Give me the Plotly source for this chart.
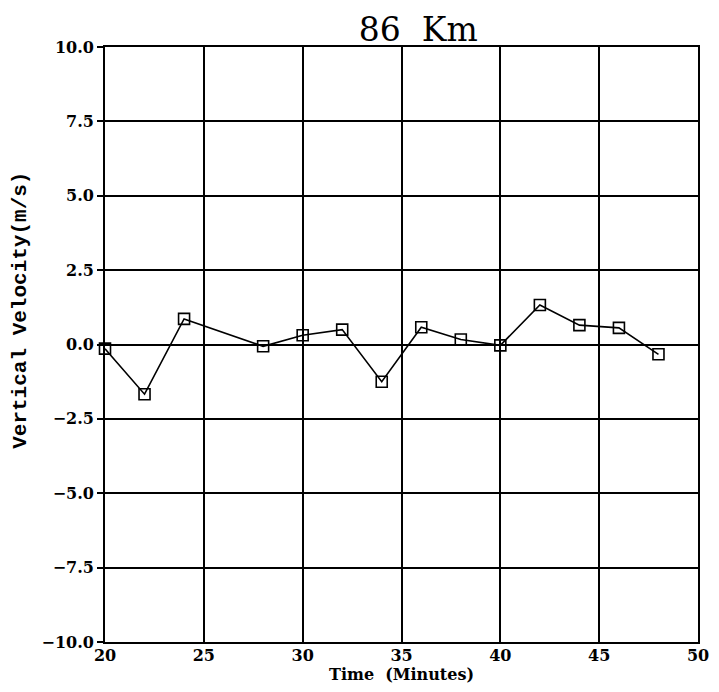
import plotly.graph_objects as go

time_min = [20, 22, 24, 28, 30, 32, 34, 36, 38, 40, 42, 44, 46, 48]
velocity = [-0.14, -1.67, 0.86, -0.06, 0.31, 0.50, -1.25, 0.58, 0.17, -0.03, 1.33, 0.65, 0.56, -0.33]

x_ticks = [20, 25, 30, 35, 40, 45, 50]
y_ticks = [-10.0, -7.5, -5.0, -2.5, 0.0, 2.5, 5.0, 7.5, 10.0]

fig = go.Figure()
fig.add_trace(go.Scatter(
    x=time_min, y=velocity, mode="lines+markers",
    line=dict(color="black", width=1.6),
    marker=dict(symbol="square-open", size=11, color="black", line=dict(width=1.6)),
    showlegend=False, cliponaxis=False,
))

tickfont = dict(family="DejaVu Serif", size=16, color="black", weight="bold")

fig.update_layout(
    width=711, height=684,
    margin=dict(l=97, r=21, t=39, b=50),
    paper_bgcolor="white", plot_bgcolor="white",
    title=dict(text="86  Km", x=0.577, xanchor="center", y=0.985, yanchor="top",
               font=dict(family="DejaVu Serif", size=33, color="black")),
    xaxis=dict(range=[20, 50], tickvals=x_ticks, ticktext=[str(v) for v in x_ticks],
               showgrid=True, gridcolor="black", gridwidth=1.8,
               showline=True, linecolor="black", linewidth=1.8, mirror=True,
               zeroline=False, ticks="", tickfont=tickfont, ticklabelstandoff=-2,
               automargin=False,
               title=dict(text="Time  (Minutes)", standoff=0,
                          font=dict(family="DejaVu Serif", size=16, color="black", weight="bold"))),
    yaxis=dict(range=[-10, 10], tickvals=y_ticks,
               ticktext=[f"{v:.1f}".replace("-", "\u2212") for v in y_ticks],
               showgrid=True, gridcolor="black", gridwidth=1.8,
               showline=True, linecolor="black", linewidth=1.8, mirror=True,
               zeroline=False, ticks="outside", ticklen=6, tickcolor="black", tickwidth=1.5,
               tickfont=tickfont, ticklabelstandoff=0, automargin=False),
    annotations=[dict(text="Vertical Velocity(m/s)", textangle=-90,
                      xref="paper", yref="paper", x=-0.142, y=0.558,
                      xanchor="center", yanchor="middle", showarrow=False,
                      font=dict(family="Liberation Mono", size=21, color="black", weight="bold"))],
)

fig.write_html("out.html")
